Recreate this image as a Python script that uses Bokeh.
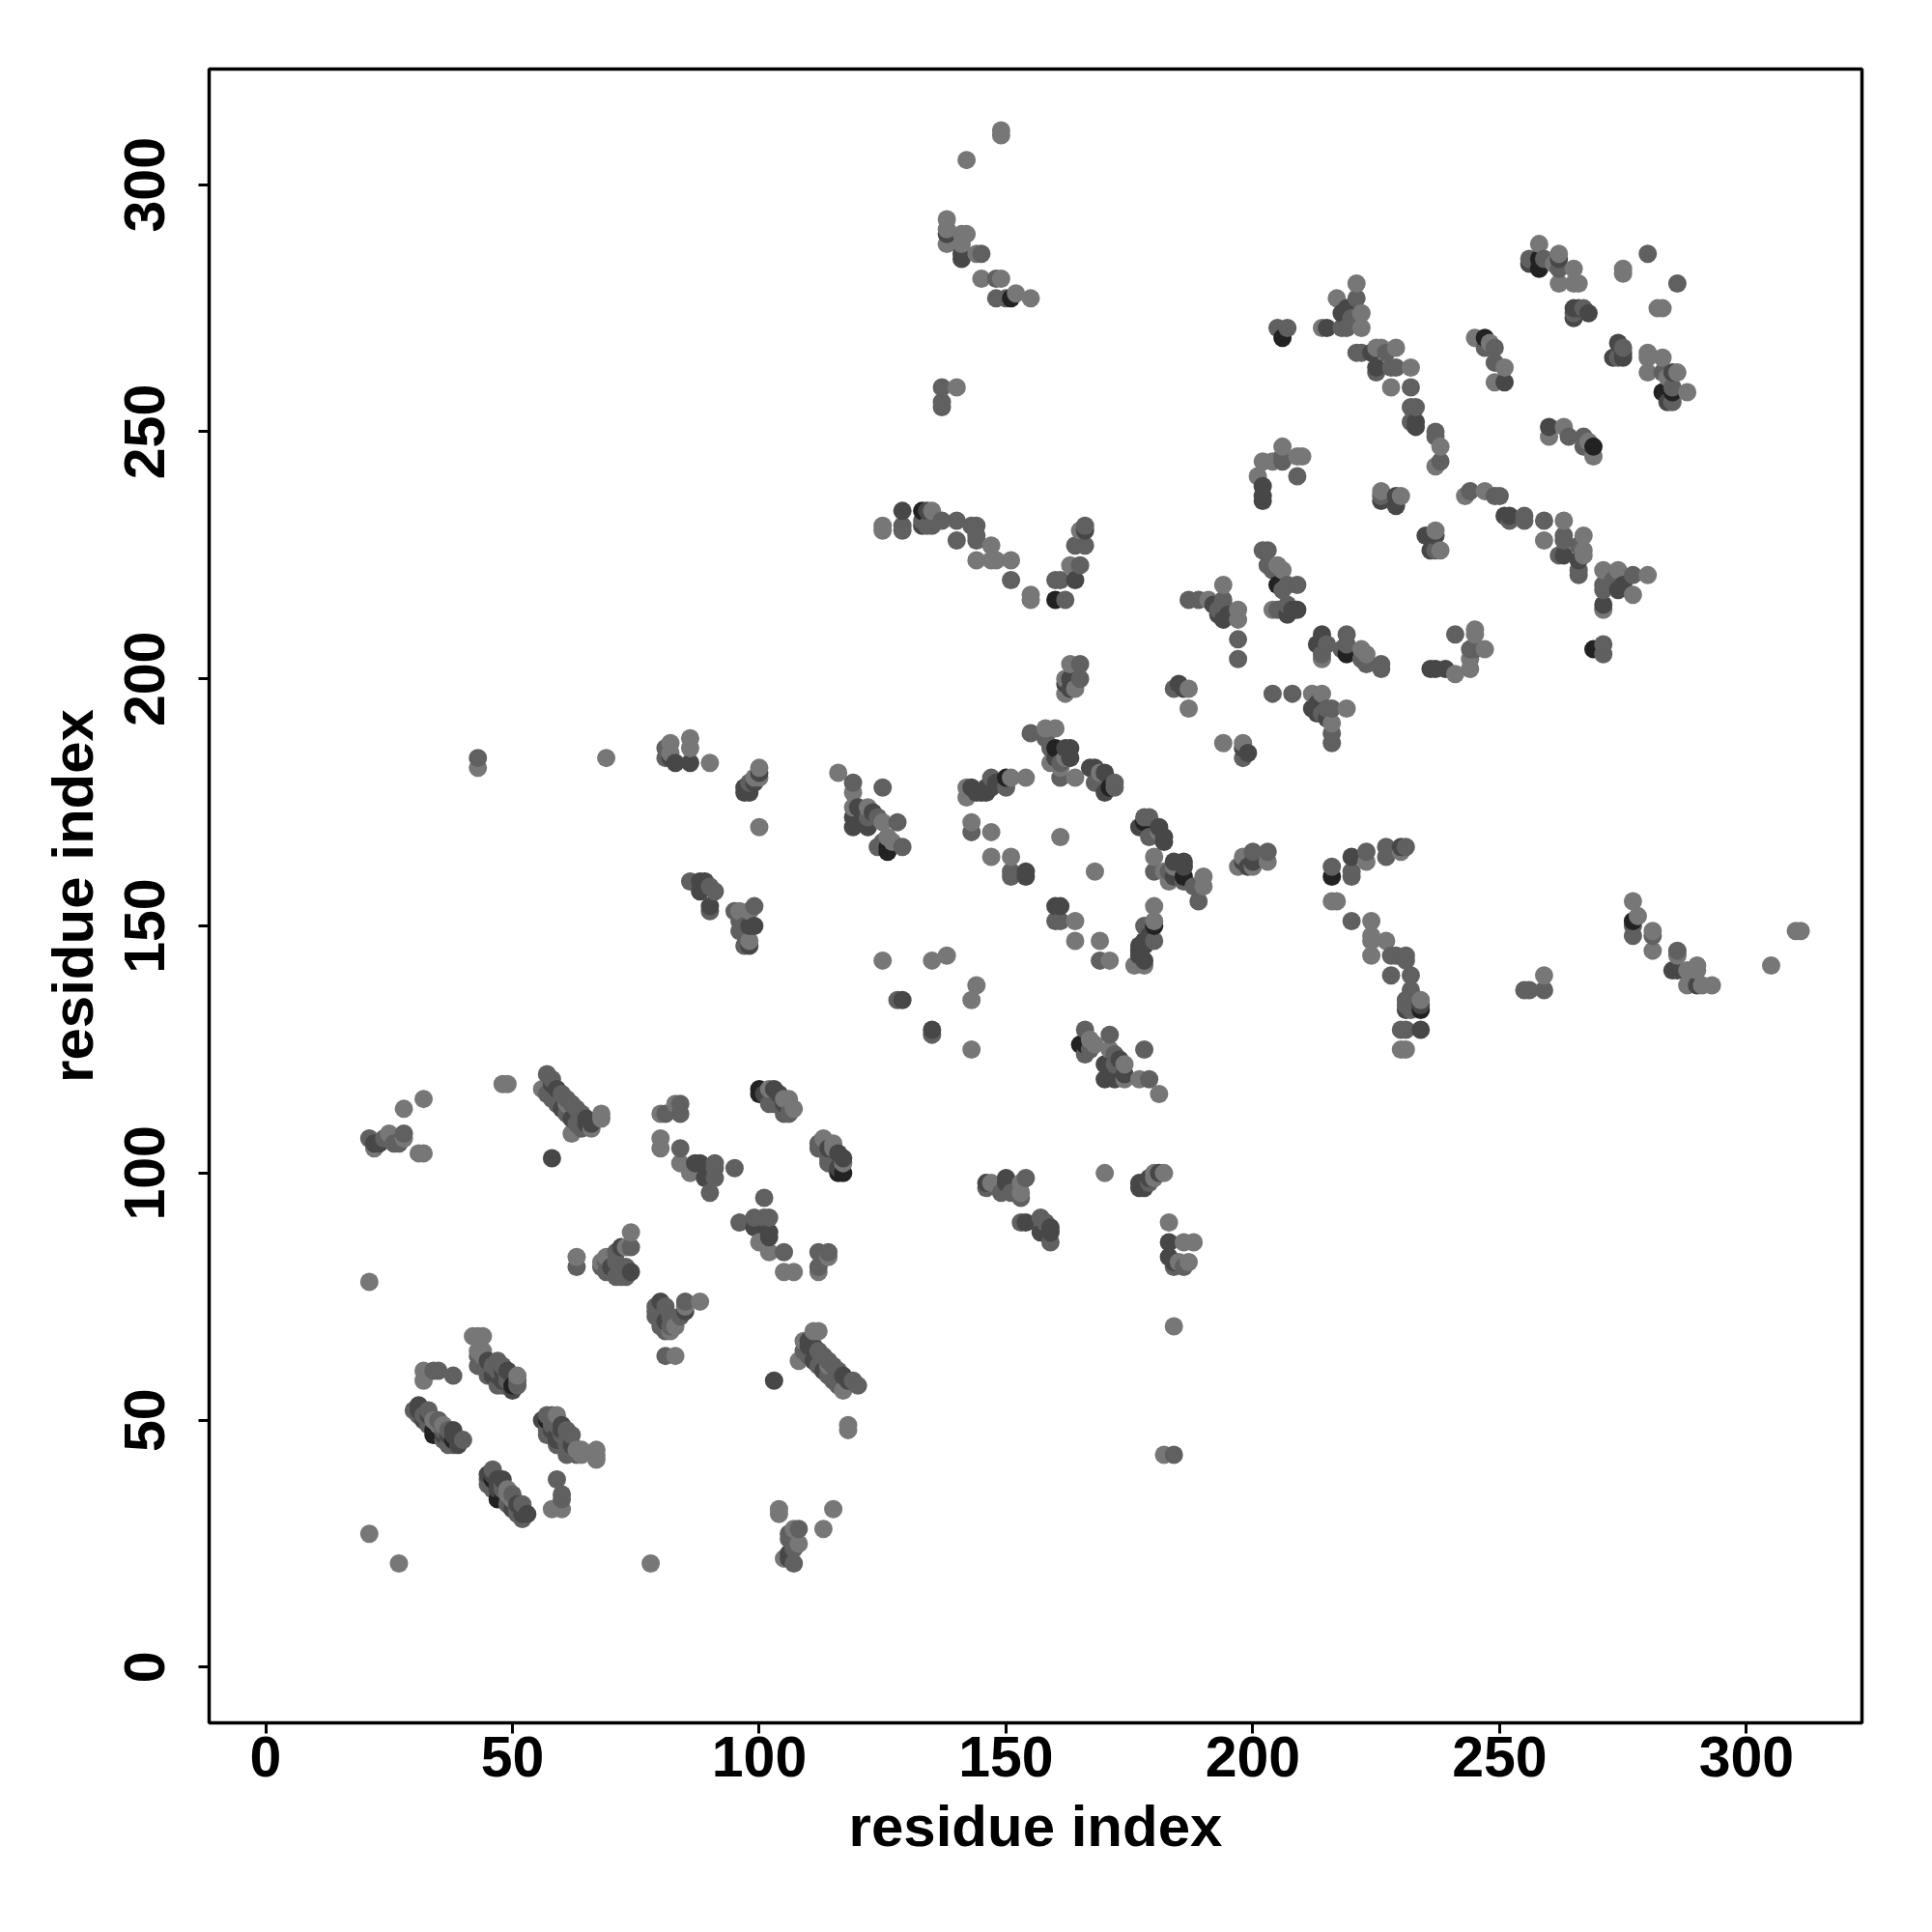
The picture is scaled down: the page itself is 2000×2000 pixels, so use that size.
from bokeh.plotting import figure
from bokeh.models import Range1d, FixedTicker
from bokeh.embed import file_html
from bokeh.resources import INLINE

tick_values = [0, 50, 100, 150, 200, 250, 300]
axis_title = "residue index"

black_contacts = [
    (34,47),(38,46),(34,48),(100,117),(100,116),(50,57),
    (126,165),(126,166),(150,180),(160,186),(171,178),(160,216),(133,234),(151,277),
    (206,269),(205,219),(258,285),(247,269),(258,283),
]
dark_contacts = [
    (23,106),(22,106),(58,118),(59,117),(65,111),(66,110),(60,113),(62,111),(65,110),(58,103),
    (87,102),(88,102),(89,99),(101,116),(103,117),(104,116),(105,114),(31,53),(31,52),(32,50),
    (38,48),(37,47),(39,46),(45,62),(47,59),(48,60),(49,60),(50,56),(56,50),(60,49),(59,46),(58,48),
    (45,39),(47,38),(48,38),(47,36),(47,34),(51,33),(53,31),(52,31),(70,81),(72,85),(74,80),(85,72),(80,74),
    (83,183),(82,184),(86,183),(100,181),(99,179),(97,177),(98,177),(97,178),(98,146),(99,150),(98,150),
    (89,159),(88,159),(88,157),(90,154),(120,174),(123,173),(119,170),(119,172),(122,170),(121,172),
    (143,178),(145,177),(146,178),(147,178),(148,179),(163,186),(162,186),(163,184),(160,184),
    (167,182),(170,181),(170,177),(168,182),(154,161),(154,160),(178,143),(177,146),(178,146),(178,147),(177,144),
    (129,135),(163,198),(162,199),(163,200),(164,220),(166,230),(129,234),(134,234),(133,231),
    (138,290),(141,286),(141,285),(215,271),(218,274),(219,275),(202,239),(202,237),(202,236),
    (208,214),(209,214),(207,213),(193,213),(195,213),(192,215),(194,212),(185,199),(186,198),
    (262,285),(265,275),(266,275),(268,274),(265,273),(251,260),(256,284),(224,266),(225,263),
    (233,252),(233,251),(226,236),(229,237),(229,235),
]
mid_contacts = [
    (21,107),(24,107),(26,106),(27,106),(28,108),(43,184),(57,120),(58,119),(60,116),(61,115),(62,114),
    (63,113),(64,112),(57,116),(58,115),(59,114),(61,112),(63,110),(64,109),(81,112),(84,114),(84,112),
    (84,105),(91,102),(91,101),(91,99),(90,96),(95,101),(102,114),(103,114),(105,112),(106,112),
    (30,52),(31,51),(33,52),(33,49),(35,50),(36,48),(37,48),(36,46),(37,45),(38,45),(40,46),(39,45),
    (34,60),(35,60),(38,59),(43,63),(44,62),(47,62),(45,59),(46,61),(47,57),(49,58),(51,58),(51,57),(48,58),
    (57,50),(57,48),(58,51),(59,49),(61,48),(60,47),(62,47),(61,45),(61,43),(62,44),
    (46,40),(45,38),(45,37),(48,37),(49,33),(50,32),(52,33),(52,30),(51,32),(63,81),(69,82),(71,82),(74,85),
    (71,84),(72,80),(71,79),(73,79),(79,72),(79,71),(81,73),(80,72),(80,69),(81,68),(85,74),
    (81,186),(81,184),(98,179),(119,179),(125,178),(124,172),(128,171),(124,166),(129,166),(125,167),(122,172),
    (147,180),(150,178),(155,189),(158,188),(159,186),(161,183),(161,180),(168,179),(172,179),(172,178),
    (143,169),(151,161),(151,160),(86,159),(91,157),(90,158),(90,153),(95,153),(99,154),(96,151),(96,149),(97,150),(97,146),
    (128,135),(165,200),(165,203),(160,220),(161,220),(162,216),(165,223),(164,227),(166,227),(166,231),
    (129,231),(129,230),(134,231),(135,231),(133,232),(137,232),(140,232),(140,228),(143,231),(144,231),
    (144,228),(151,220),(144,229),(145,286),(148,281),(148,277),(150,277),(137,259),(137,256),(137,255),
    (205,271),(207,271),(221,277),(218,271),(219,271),(220,273),(206,244),(209,241),(206,245),
    (202,226),(203,226),(203,223),(204,222),(207,219),(209,219),(206,218),(205,214),(207,215),
    (187,216),(189,216),(194,216),(193,214),(194,215),(197,208),(197,204),(184,198),
    (256,285),(259,285),(262,283),(265,274),(267,275),(247,267),(249,267),(249,264),
    (280,286),(264,249),(221,266),(222,266),(227,266),
    (225,262),(228,263),(229,263),(232,259),(232,255),(233,255),(232,252),(237,250),(237,249),(238,244),(226,237),
]
light_contacts = [
    (21,27),(21,78),(22,105),(25,108),(28,107),(28,113),(32,115),(31,104),(32,104),(48,118),(49,118),
    (43,182),(69,184),(56,117),(61,114),(62,108),(66,109),(68,112),(68,111),(80,112),(83,114),(80,107),
    (80,105),(84,102),(86,100),(102,117),(105,115),(106,115),(107,113),(32,60),(32,58),(34,50),(35,49),
    (42,67),(43,67),(44,67),(43,64),(43,61),(59,51),(63,44),(64,44),(67,44),(67,43),(67,42),(49,36),(50,35),
    (63,83),(68,82),(74,88),(81,70),(83,69),(85,73),(88,74),(82,187),(82,185),(86,188),(86,186),(90,183),
    (100,182),(100,180),(99,180),(100,170),(116,181),(119,177),(119,174),(122,174),(125,171),(126,168),(127,167),
    (142,176),(142,178),(151,180),(154,180),(158,190),(160,190),(159,183),(164,180),(161,182),(162,184),
    (169,181),(143,171),(147,169),(161,168),(147,164),(151,164),(96,153),(98,153),(98,147),
    (125,143),(135,143),(138,144),(162,197),(164,198),(163,203),(162,200),(163,223),(165,230),
    (125,231),(125,230),(135,234),(147,227),(144,224),(147,224),(148,224),(151,224),(155,217),(155,216),
    (138,293),(138,291),(138,288),(142,290),(141,290),(141,288),(144,286),(145,281),(149,281),(152,278),(155,277),
    (149,311),(149,310),(142,305),(140,259),(214,271),(221,280),(217,277),(222,274),(222,271),
    (206,247),(202,244),(204,244),(209,245),(210,245),(201,241),(205,223),(206,222),(204,214),
    (194,219),(191,216),(197,214),(197,212),(187,198),(187,194),
    (258,288),(262,286),(265,283),(262,280),(265,280),(266,280),(261,284),(275,283),(275,282),
    (245,269),(251,263),(249,260),(248,268),
    (225,267),(226,267),(229,267),(232,263),(228,259),(238,247),(237,243),(226,238),(230,237),
]

shade_of = {}
for contacts, shade in [(black_contacts, "#222222"), (dark_contacts, "#474747"),
                        (mid_contacts, "#606060"), (light_contacts, "#777777")]:
    for a, b in contacts:
        shade_of.setdefault((a, b), shade)
        shade_of.setdefault((b, a), shade)
ordered = sorted(shade_of)

p = figure(frame_width=1711, frame_height=1712, min_border_left=216, min_border_top=71,
           min_border_right=50, min_border_bottom=160, output_backend="svg", toolbar_location=None,
           x_range=Range1d(-11.45, 323.4), y_range=Range1d(-11.25, 323.4),
           x_axis_label=axis_title, y_axis_label=axis_title)

p.scatter([a for a, b in ordered], [b for a, b in ordered], size=19,
          fill_color=[shade_of[c] for c in ordered], line_color=None, marker="circle")

p.grid.visible = False
p.outline_line_color = "black"
p.outline_line_width = 3.5
p.background_fill_color = "white"
for ax in (p.xaxis[0], p.yaxis[0]):
    ax.ticker = FixedTicker(ticks=tick_values)
    ax.axis_line_color = None
    ax.minor_tick_line_color = None
    ax.major_tick_line_color = "black"
    ax.major_tick_line_width = 3
    ax.major_tick_out = 11
    ax.major_tick_in = 0
    ax.major_label_text_font = "Liberation Sans"
    ax.major_label_text_font_style = "bold"
    ax.major_label_text_font_size = "59px"
    ax.major_label_text_color = "black"
    ax.axis_label_text_font = "Liberation Sans"
    ax.axis_label_text_font_style = "bold"
    ax.axis_label_text_font_size = "60px"
    ax.axis_label_text_color = "black"
p.yaxis[0].major_label_orientation = "vertical"
p.xaxis[0].major_label_standoff = 3
p.yaxis[0].major_label_standoff = 35
p.xaxis[0].axis_label_standoff = 15
p.yaxis[0].axis_label_standoff = 18

open("out.html", "w").write(file_html(p, INLINE))
